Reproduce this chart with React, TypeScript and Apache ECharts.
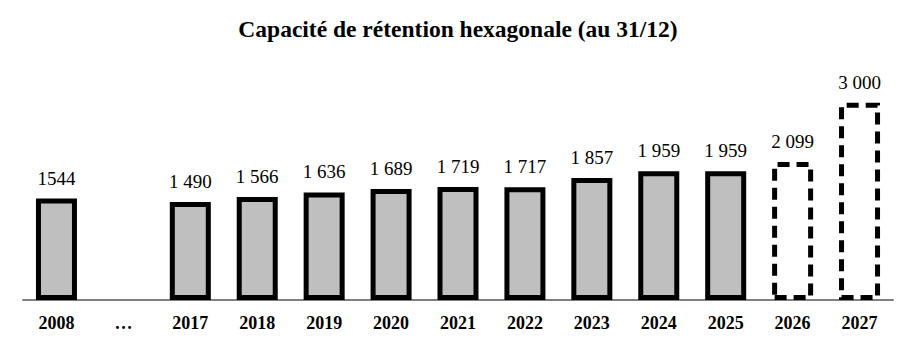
import React, { useEffect, useRef } from "react";
import * as echarts from "echarts";

const title = "Capacité de rétention hexagonale (au 31/12)";
const categories = ["2008", "…", "2017", "2018", "2019", "2020", "2021", "2022", "2023", "2024", "2025", "2026", "2027"];
const values: (number | null)[] = [1544, null, 1490, 1566, 1636, 1689, 1719, 1717, 1857, 1959, 1959, 2099, 3000];
const valueLabels = ["1544", "", "1 490", "1 566", "1 636", "1 689", "1 719", "1 717", "1 857", "1 959", "1 959", "2 099", "3 000"];
const projected = [false, false, false, false, false, false, false, false, false, false, false, true, true];

export default function App() {
  const ref = useRef<HTMLDivElement>(null);
  useEffect(() => {
    if (!ref.current) return;
    const chart = echarts.init(ref.current, null, { renderer: "svg" });
    const font = "'Liberation Serif', 'Times New Roman', serif";
    const data = values.map((v, i) => {
      if (v === null) return "-";
      return projected[i]
        ? {
            value: v,
            itemStyle: {
              color: "rgba(255,255,255,0)",
              borderColor: "#000",
              borderWidth: 5,
              borderType: [12, 7],
            },
          }
        : { value: v };
    });
    chart.setOption({
      animation: false,
      backgroundColor: "#fff",
      title: {
        text: title,
        left: "center",
        top: 12,
        textStyle: { fontFamily: font, fontSize: 23.5, fontWeight: "bold", color: "#000" },
      },
      grid: { left: 23, right: 23, top: 70, bottom: 49 },
      xAxis: {
        type: "category",
        data: categories,
        axisLine: { show: true, lineStyle: { color: "#808080", width: 2 } },
        axisTick: { show: false },
        axisLabel: {
          interval: 0,
          margin: 14,
          fontFamily: font,
          fontSize: 18,
          fontWeight: "bold",
          color: "#000",
        },
      },
      yAxis: {
        type: "value",
        min: 0,
        max: 3500,
        show: false,
        splitLine: { show: false },
      },
      series: [
        {
          type: "bar",
          data,
          barWidth: 41,
          itemStyle: { color: "#bfbfbf", borderColor: "#000", borderWidth: 5 },
          label: {
            show: true,
            position: "top",
            distance: 11,
            fontFamily: font,
            fontSize: 19,
            color: "#000",
            formatter: (p: any) => valueLabels[p.dataIndex],
          },
        },
      ],
    });
    return () => chart.dispose();
  }, []);
  return (
    <div
      ref={ref}
      style={{ position: "fixed", left: 0, top: 0, width: 916, height: 349, background: "#fff" }}
    />
  );
}
